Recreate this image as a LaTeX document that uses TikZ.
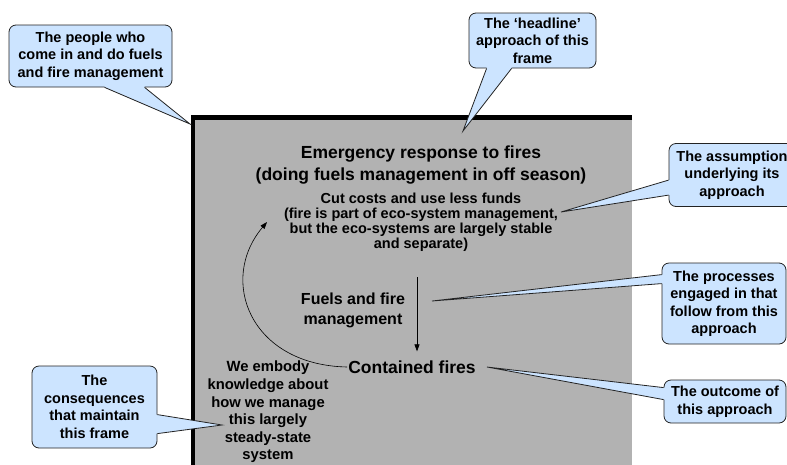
\documentclass[tikz,border=0pt]{standalone}
\usepackage{fontspec}
\setmainfont{Liberation Sans}
\usetikzlibrary{calc,arrows.meta}
\definecolor{callblue}{RGB}{204,228,255}
\definecolor{framegray}{RGB}{178,178,178}
\definecolor{calledge}{RGB}{35,35,35}
\tikzset{
  callbox/.style={draw=calledge, fill=callblue, line width=0.8pt, rounded corners=7pt,
    align=center, inner sep=0pt, font=\bfseries\fontsize{14.5}{17.5}\selectfont},
  ptrfill/.style={fill=callblue},
  ptredge/.style={draw=calledge, line width=0.8pt, line join=miter},
  frametext/.style={align=center, inner sep=1pt},
  flow/.style={-{Triangle[length=7pt,width=5pt]}, line width=0.7pt}
}
\begin{document}
\begin{tikzpicture}[x=1pt,y=-1pt]
\useasboundingbox (0,0) rectangle (787,464);
\clip (0,0) rectangle (787,464);

% the frame: grey panel with a heavy top and left border
\fill[framegray] (191,116) rectangle (632,470);
\draw[line width=4.5pt, line join=miter] (632,117.5) -- (193,117.5) -- (193,470);

% texts inside the frame
\node[frametext, font=\bfseries\fontsize{17.5}{22}\selectfont] (title) at (421,165)
  {Emergency response to fires\\(doing fuels management in off season)};
\node[frametext, font=\bfseries\fontsize{14.5}{15}\selectfont] (cut) at (421,222)
  {Cut costs and use less funds\\(fire is part of eco-system management,\\but the eco-systems are largely stable\\and separate)};
\node[frametext, font=\bfseries\fontsize{16}{20}\selectfont] (fuels) at (353,310)
  {Fuels and fire\\management};
\node[frametext, font=\bfseries\fontsize{17.5}{21}\selectfont] (contained) at (412,367)
  {Contained fires};
\node[frametext, font=\bfseries\fontsize{14.8}{17.6}\selectfont] (embody) at (268,412)
  {We embody\\knowledge about\\how we manage\\this largely\\steady-state\\system};

% flow arrows
\coordinate (flowtop) at (417,277);
\coordinate (backtip) at (267,222);
\draw[flow] (flowtop) -- ([yshift=8pt]flowtop |- contained.north);
\draw[flow, line width=0.6pt] (contained.west) .. controls (250,365) and (218,280) .. (backtip);

% callouts
\node[callbox, minimum width=163pt, minimum height=62pt] (people) at (90.5,56)
  {The people who\\come in and do fuels\\and fire management};
\node[callbox, minimum width=127pt, minimum height=55pt] (headline) at (532.5,40.5)
  {The `headline'\\approach of this\\frame};
\node[callbox, minimum width=126pt, minimum height=63pt] (assume) at (732,175)
  {The assumption\\underlying its\\approach};
\node[callbox, minimum width=124pt, minimum height=81pt] (process) at (724,303.5)
  {The processes\\engaged in that\\follow from this\\approach};
\node[callbox, minimum width=122pt, minimum height=43pt] (outcome) at (725,401.5)
  {The outcome of\\this approach};
\node[callbox, minimum width=125pt, minimum height=82pt] (conseq) at (94.5,407)
  {The\\consequences\\that maintain\\this frame};

% callout pointers
\coordinate (peopleTip) at (190,124);
\coordinate (headlineTip) at (463,131);
\coordinate (assumeTip) at (561,212);
\coordinate (processTip) at (432,301);
\coordinate (outcomeTip) at (487,367);
\coordinate (conseqTip) at (222,425);

% pointers leaving a bottom edge
\fill[ptrfill] ([xshift=96pt]people.south west) coordinate (pa) -- (peopleTip)
  -- ([xshift=136pt]people.south west) coordinate (pb) -- ($(pb)+(0,-3)$) -- ($(pa)+(0,-3)$) -- cycle;
\draw[ptredge] (pa) -- (peopleTip) -- (pb);

\fill[ptrfill] ([xshift=18pt]headline.south west) coordinate (ha) -- (headlineTip)
  -- ([xshift=43pt]headline.south west) coordinate (hb) -- ($(hb)+(0,-3)$) -- ($(ha)+(0,-3)$) -- cycle;
\draw[ptredge] (ha) -- (headlineTip) -- (hb);

% pointers leaving a left edge
\fill[ptrfill] ([yshift=-37pt]assume.north west) coordinate (aa) -- (assumeTip)
  -- ([yshift=-52pt]assume.north west) coordinate (ab) -- ($(ab)+(3,0)$) -- ($(aa)+(3,0)$) -- cycle;
\draw[ptredge] (aa) -- (assumeTip) -- (ab);

\fill[ptrfill] ([yshift=-12pt]process.north west) coordinate (qa) -- (processTip)
  -- ([yshift=-21pt]process.north west) coordinate (qb) -- ($(qb)+(3,0)$) -- ($(qa)+(3,0)$) -- cycle;
\draw[ptredge] (qa) -- (processTip) -- (qb);

\fill[ptrfill] ([yshift=-8pt]outcome.north west) coordinate (oa) -- (outcomeTip)
  -- ([yshift=-20pt]outcome.north west) coordinate (ob) -- ($(ob)+(3,0)$) -- ($(oa)+(3,0)$) -- cycle;
\draw[ptredge] (oa) -- (outcomeTip) -- (ob);

% pointer leaving a right edge
\fill[ptrfill] ([yshift=-49pt]conseq.north east) coordinate (ca) -- (conseqTip)
  -- ([yshift=-68pt]conseq.north east) coordinate (cb) -- ($(cb)+(-3,0)$) -- ($(ca)+(-3,0)$) -- cycle;
\draw[ptredge] (ca) -- (conseqTip) -- (cb);
\end{tikzpicture}
\end{document}
